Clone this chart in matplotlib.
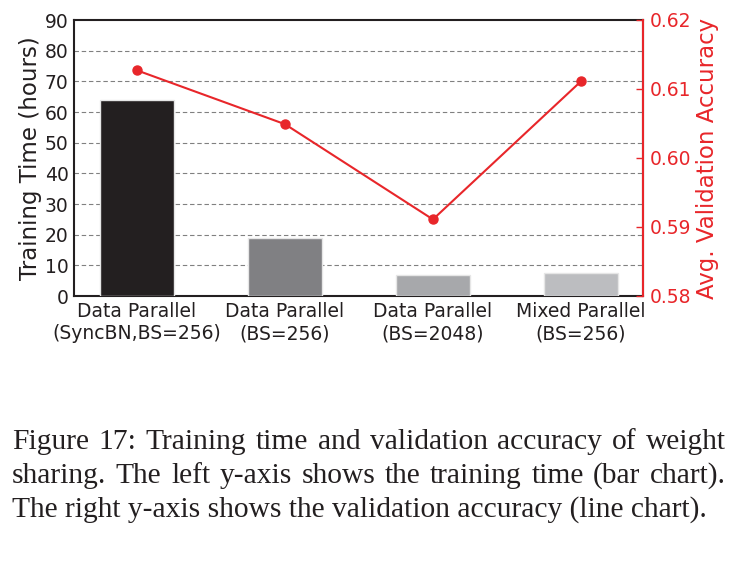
import matplotlib
matplotlib.use("Agg")
import matplotlib.pyplot as plt

categories = ["Data Parallel\n(SyncBN,BS=256)", "Data Parallel\n(BS=256)",
              "Data Parallel\n(BS=2048)", "Mixed Parallel\n(BS=256)"]
train_hours = [64, 19, 7, 7.4]
val_acc = [0.6127, 0.6049, 0.5911, 0.6111]
bar_colors = ["#231f20", "#808083", "#a7a8ab", "#bcbdc0"]
left_ticks = [0, 10, 20, 30, 40, 50, 60, 70, 80, 90]
right_ticks = [0.58, 0.59, 0.60, 0.61, 0.62]
caption_lines = [
    "Figure 17: Training time and validation accuracy of weight",
    "sharing. The left y-axis shows the training time (bar chart).",
    "The right y-axis shows the validation accuracy (line chart).",
]

RED = "#e8262a"
DARK = "#231f20"
plt.rcParams["font.family"] = "DejaVu Sans"

W, H = 756, 579
fig = plt.figure(figsize=(W / 100, H / 100), dpi=100)
ax = fig.add_axes([74 / W, 1 - 296 / H, (643 - 74) / W, (296 - 20) / H])
x = list(range(len(categories)))
ax.bar(x, train_hours, width=0.5, color=bar_colors, edgecolor="#e6e6e6",
       linewidth=1.0, zorder=3)
ax.set_xlim(-0.426, 3.42)
ax.set_ylim(0, 90)
ax.set_yticks(left_ticks)
ax.set_yticklabels([str(t) for t in left_ticks], fontsize=13.5, color=DARK)
# two-line category labels: first line on major ticks, second on minor ticks
first_lines = [c.split("\n")[0] for c in categories]
second_lines = [c.split("\n")[1] for c in categories]
ax.xaxis.remove_overlapping_locs = False
ax.set_xticks(x)
ax.set_xticklabels(first_lines, fontsize=13.5, color=DARK)
ax.set_xticks(x, minor=True)
ax.set_xticklabels(second_lines, minor=True, fontsize=13.5, color=DARK)
ax.tick_params(axis="y", length=0, pad=4)
ax.tick_params(axis="x", which="major", length=0, pad=4.5)
ax.tick_params(axis="x", which="minor", length=0, pad=20.5)
ax.set_ylabel("Training Time (hours)", fontsize=16.5, color=DARK, labelpad=2)
for yv in left_ticks[1:-1]:
    ax.axhline(yv, color="#808080", linestyle=(0, (4, 2.5)), linewidth=0.8, zorder=1)
for s in ax.spines.values():
    s.set_color(DARK)
    s.set_linewidth(1.5)

ax2 = ax.twinx()
ax2.plot(x, val_acc, color=RED, linewidth=1.5, marker="o", markersize=6.5, zorder=5)
ax2.set_ylim(0.58, 0.62)
ax2.set_yticks(right_ticks)
ax2.set_yticklabels([f"{t:.2f}" for t in right_ticks], fontsize=13.5, color=RED)
ax2.tick_params(axis="y", colors=RED, direction="in", length=5, width=1, pad=5)
ax2.set_ylabel("Avg. Validation Accuracy", fontsize=16.5, color=RED, labelpad=3)
ax2.spines["right"].set_color(RED)
ax2.spines["right"].set_linewidth(1.5)
ax2.spines["left"].set_visible(False)
ax2.spines["top"].set_visible(False)
ax2.spines["bottom"].set_visible(False)

# caption, justified like the LaTeX paragraph
renderer = fig.canvas.get_renderer()
cap_left, cap_right = 12, 726
cap_size = 21.25
for i, line in enumerate(caption_lines):
    yb = 1 - (449 + 34 * i) / H
    if i == len(caption_lines) - 1:
        fig.text(cap_left / W, yb, line, fontsize=cap_size, family="Liberation Serif",
                 color=DARK, va="baseline", ha="left")
        continue
    words = line.split(" ")
    widths = []
    for w in words:
        t = fig.text(0, 0, w, fontsize=cap_size, family="Liberation Serif")
        widths.append(t.get_window_extent(renderer).width)
        t.remove()
    gap = (cap_right - cap_left - sum(widths)) / (len(words) - 1)
    xp = cap_left
    for w, wd in zip(words, widths):
        fig.text(xp / W, yb, w, fontsize=cap_size, family="Liberation Serif",
                 color=DARK, va="baseline", ha="left")
        xp += wd + gap

fig.savefig("out.png", dpi=100)
